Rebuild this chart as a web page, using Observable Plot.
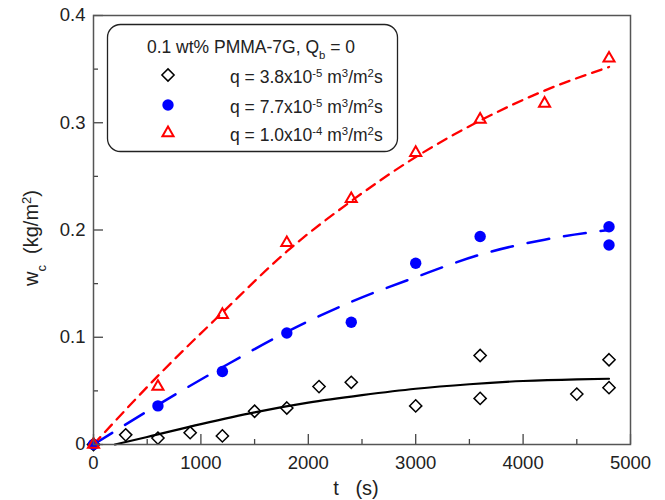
<!DOCTYPE html>
<html><head><meta charset="utf-8">
<script src="https://cdn.jsdelivr.net/npm/d3@7"></script>
<script src="https://cdn.jsdelivr.net/npm/@observablehq/plot@0.6"></script>
<style>
html,body{margin:0;padding:0;background:#fff;}
#chart{width:665px;height:500px;}
</style></head><body><div id="chart"></div>
<script>
// ---- data ----
const tDiamond = [0,300,600,900,1200,1500,1800,2100,2400,3000,3600,3600,4500,4800,4800];
const wDiamond = [0,0.009,0.006,0.011,0.008,0.031,0.034,0.054,0.058,0.036,0.083,0.043,0.047,0.079,0.053];
const tCircle = [0,600,1200,1800,2400,3000,3600,4800,4800];
const wCircle = [0,0.036,0.068,0.104,0.114,0.169,0.194,0.203,0.186];
const tTriangle = [0,600,1200,1800,2400,3000,3600,4200,4800];
const wTriangle = [0,0.054,0.121,0.188,0.229,0.272,0.303,0.318,0.360];
// fitted curves
const tFitBlack = [200,500,1000,1500,2000,2500,3000,3500,4000,4500,4800];
const wFitBlack = [0,0.007,0.019,0.030,0.039,0.046,0.052,0.0562,0.0592,0.0608,0.0613];
const tFitBlue = [0,600,1200,1800,2400,3000,3600,4200,4800];
const wFitBlue = [0,0.037,0.072,0.105,0.133,0.156,0.177,0.191,0.200];
const tFitRed = [0,600,1200,1800,2400,3000,3600,4200,4800];
const wFitRed = [0,0.064,0.123,0.180,0.227,0.268,0.302,0.330,0.352];
// ticks
const xMajor = [0,1000,2000,3000,4000,5000];
const xMinor = [500,1500,2500,3500,4500];
const yMajor = [0,0.1,0.2,0.3,0.4];
const yMinor = [0.05,0.15,0.25,0.35];
// texts
const legendTitle = ["0.1 wt% PMMA-7G, Q", "b", " = 0"];
const legendLabels = [
  ["q = 3.8x10","-5"," m","3","/m","2","s"],
  ["q = 7.7x10","-5"," m","3","/m","2","s"],
  ["q = 1.0x10","-4"," m","3","/m","2","s"]
];
const xLabel = "t   (s)";
const yLabel = ["w","c","  (kg/m","2",")"];

const zip = (t,w) => t.map((v,i)=>({t:v,w:w[i]}));
const W=665,H=500,ML=93,MR=35,MT=15,MB=56;
const innerW=W-ML-MR, innerH=H-MT-MB;
const fam='"Liberation Sans", Arial, Helvetica, sans-serif';
const R={d:5.5,c:5.7,t:5.3};

const plot = Plot.plot({
  width:W, height:H, marginLeft:ML, marginRight:MR, marginTop:MT, marginBottom:MB,
  style:{fontFamily:fam, background:"white", overflow:"visible", color:"#222"},
  x:{domain:[0,5000]}, y:{domain:[0,0.4]},
  marks:[
    Plot.tickX(xMinor,{x:d=>d, insetTop:innerH-5, stroke:"#444", strokeWidth:1.3}),
    Plot.tickX(xMajor,{x:d=>d, insetTop:innerH-10, stroke:"#444", strokeWidth:1.3}),
    Plot.tickY(yMinor,{y:d=>d, insetRight:innerW-5, stroke:"#444", strokeWidth:1.3}),
    Plot.tickY(yMajor,{y:d=>d, insetRight:innerW-10, stroke:"#444", strokeWidth:1.3}),
    Plot.axisX({ticks:xMajor, tickSize:0, tickPadding:11, tickFormat:d=>String(d), fontSize:18.5, label:null}),
    Plot.axisY({ticks:yMajor, tickSize:0, tickPadding:8, tickFormat:d=>d===0?"0":d.toFixed(1), fontSize:18.5, label:null}),
    Plot.line(zip(tFitBlack,wFitBlack),{x:"t",y:"w",stroke:"black",strokeWidth:2.2,curve:"monotone-x"}),
    Plot.line(zip(tFitBlue,wFitBlue),{x:"t",y:"w",stroke:"#0000ff",strokeWidth:2.5,strokeDasharray:"22,15",curve:"monotone-x"}),
    Plot.line(zip(tFitRed,wFitRed),{x:"t",y:"w",stroke:"#ff0000",strokeWidth:2.3,strokeDasharray:"10,7",curve:"monotone-x"}),
    Plot.dot(zip(tDiamond,wDiamond),{x:"t",y:"w",symbol:"diamond2",r:R.d,stroke:"black",strokeWidth:1.5,fill:"none"}),
    Plot.dot(zip(tCircle,wCircle),{x:"t",y:"w",symbol:"circle",r:R.c,fill:"#0000ff",stroke:"none"}),
    Plot.dot(zip(tTriangle,wTriangle),{x:"t",y:"w",symbol:"triangle2",r:R.t,stroke:"#ff0000",strokeWidth:2,fill:"none"}),
    Plot.frame({stroke:"#555",strokeWidth:1.5})
  ]
});
document.getElementById("chart").appendChild(plot);

const svg = d3.select(plot);
function rich(textSel, parts, subsup){
  parts.forEach((p,i)=>{
    const ts = textSel.append("tspan").text(p);
    if(i%2===1){ ts.attr("baseline-shift", subsup).attr("font-size","65%"); }
  });
}
// legend
const lg = svg.append("g").attr("font-family",fam).attr("fill","#222");
lg.append("rect").attr("x",107.5).attr("y",24.5).attr("width",290).attr("height",127)
  .attr("rx",13).attr("fill","white").attr("stroke","#222").attr("stroke-width",1.3);
const tt = lg.append("text").attr("x",251).attr("y",53).attr("text-anchor","middle").attr("font-size",17.5)
  .style("white-space","pre");
rich(tt, legendTitle, "sub");
const rowsY=[75,105,133];
const sym=[
  {s:d3.symbolDiamond2,r:R.d,fill:"none",stroke:"black",sw:1.5},
  {s:d3.symbolCircle,r:R.c,fill:"#0000ff",stroke:"none",sw:0},
  {s:d3.symbolTriangle2,r:R.t,fill:"none",stroke:"#ff0000",sw:2}
];
legendLabels.forEach((lab,i)=>{
  const s=sym[i];
  lg.append("path").attr("d",d3.symbol(s.s,Math.PI*s.r*s.r)())
    .attr("transform",`translate(168,${rowsY[i]})`)
    .attr("fill",s.fill).attr("stroke",s.stroke).attr("stroke-width",s.sw);
  const t=lg.append("text").attr("x",230).attr("y",rowsY[i]+8).attr("text-anchor","start")
    .attr("font-size",17.5).style("white-space","pre");
  rich(t, lab, "super");
});
// axis titles
svg.append("text").attr("x",356).attr("y",495).attr("text-anchor","middle")
  .attr("font-family",fam).attr("font-size",20).attr("fill","#222").style("white-space","pre").text(xLabel);
const yl = svg.append("text").attr("transform","translate(38,238) rotate(-90)").attr("text-anchor","middle")
  .attr("font-family",fam).attr("font-size",20).attr("fill","#222").style("white-space","pre");
yLabel.forEach((p,i)=>{
  const ts=yl.append("tspan").text(p);
  if(i===1) ts.attr("baseline-shift","sub").attr("font-size","65%");
  if(i===3) ts.attr("baseline-shift","super").attr("font-size","65%");
});
</script></body></html>
